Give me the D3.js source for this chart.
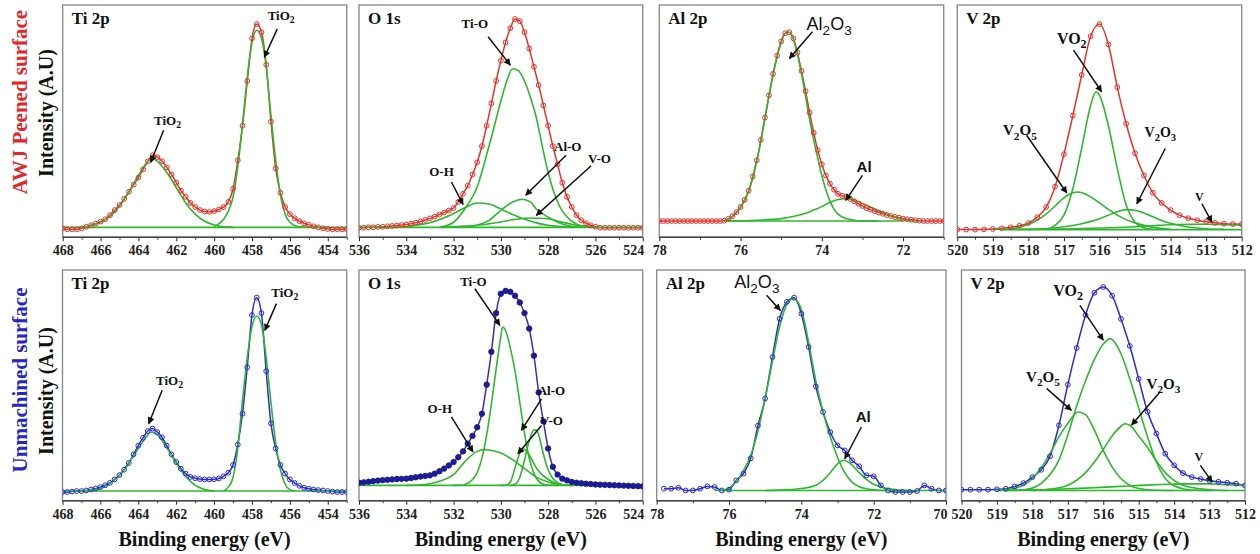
<!DOCTYPE html>
<html>
<head>
<meta charset="utf-8">
<script src="https://cdn.jsdelivr.net/npm/d3@7"></script>
<style>
  body { margin: 0; background: #fff; }
</style>
</head>
<body>
<svg id="chart" width="1260" height="554"></svg>
<script>
// ---------- tick labels ----------
const tiTicks = [468, 466, 464, 462, 460, 458, 456, 454];
const tiMinor = [467, 465, 463, 461, 459, 457, 455, 453];
const oTicks = [536, 534, 532, 530, 528, 526, 524];
const oMinor = [535, 533, 531, 529, 527, 525];
const alTopTicks = [78, 76, 74, 72];
const alBotTicks = [78, 76, 74, 72, 70];
const alMinor = [77, 75, 73, 71];
const vTicks = [520, 519, 518, 517, 516, 515, 514, 513, 512];
const vMinor = [519.5, 518.5, 517.5, 516.5, 515.5, 514.5, 513.5, 512.5];

// ---------- AWJ peened surface (top row) ----------
// measured points: first energy + spacing, then intensities (A.U, baseline ~0, max ~100)
const tiTopStart = 468, tiTopStep = 0.25;
const tiTopCounts = [-0.5,-1,-1,-1,-0.5,0.3,1,1.8,2.8,4,6,8.5,11,14,17.5,21,24.5,28.5,32.5,35.5,34.5,
  32.5,29.5,26,22,18,15,12,10,8.5,7.8,7.6,8,8.8,10,12.5,19,33,50,72,93,
  100,96,80,52,29,17,10,6.5,4.5,3,2,1.2,0.5,0,-0.5,-0.8,-1,-1,-1,-1];
const tiTopFitA = [[467,0],[466.5,1],[466,2.5],[465.5,5.5],[465,10.5],[464.5,17.5],[464,25.5],[463.5,32.5],[463.3,34],
  [463,32.5],[462.5,27],[462,19.5],[461.5,12],[461,6.5],[460.5,3],[460,1.2],[459.5,0.3],[459,0]];
const tiTopFitB = [[460,0.5],[459.5,4],[459.25,8],[459,15],[458.75,30],[458.5,51],[458.25,74],[458,91],[457.75,97],
  [457.5,93],[457.25,79],[457,55],[456.75,33],[456.5,16],[456.25,6.5],[456,2.5],[455.5,0.3],[455,0]];
const tiTopBase = [[468,0],[453,0]];

const oTopStart = 536, oTopStep = 0.2;
const oTopCounts = [-0.2,-0.2,0,0,0.2,0.3,0.5,0.7,0.9,1.1,1.4,1.8,2.3,2.9,3.6,4.4,5.3,6.3,7.3,8.3,9.5,12.5,16.5,20.5,26,32,
  40,50,61,72,82,91,98,102.5,101.5,96,88,79,70,60,50,40,31,22,15,10,6,3.5,2,1,0.3,
  -0.2,-0.2,-0.2,-0.2,-0.2,-0.2,-0.2,-0.2,-0.2,-0.2];
const oTopTiO = [[532.6,0],[532,2.5],[531.5,9.5],[531,20],[530.5,40],[530,62],[529.75,72],[529.5,78],[529.25,77],[529,72],
  [528.75,64],[528.5,54],[528.25,40],[528,27],[527.75,17],[527.5,10],[527,3],[526.5,0.5],[526,0]];
const oTopOH = [[534.5,0],[534,0.4],[533.5,1.2],[533,2.3],[532.5,4.2],[532,6.8],[531.5,9.8],[531,12],[530.5,11.5],[530,9],
  [529.5,6.3],[529,4],[528.5,2.2],[528,1],[527.5,0.4],[527,0]];
const oTopAlO = [[531.5,0],[531,1],[530.5,3.4],[530,8.4],[529.5,12.5],[529.1,13.8],[528.75,12.5],[528.5,9],[528,5],[527.5,2],[527,0.5],[526.5,0]];
const oTopVO = [[532.5,0],[531.5,0.6],[531,1],[530,2.6],[529.5,3.7],[528.8,4.6],[528,4.2],[527.5,2.8],[527,1.5],[526.5,0.5],[526,0]];
const oTopBase = [[536,0],[524,0]];

const alTopStart = 78, alTopStep = 0.1;
const alTopCounts = [3.1,3.1,3.1,3.1,3.1,3.1,3.1,3.1,3.1,3.1,3.1,3.1,3.1,3.1,3.1,3.1,
  3.3,4.2,5.5,7.5,10,13.5,18,25,33,43,54,65,75.5,84.5,91.5,95.5,96,93,86,77,67,56.5,46.5,38,31,
  25.5,21.5,18.5,16.5,15.5,15,14,12.8,11.6,10.5,9.5,8.7,8,7.3,6.7,6.1,5.6,5.1,4.7,4.3,4,3.7,3.5,3.3,
  3.1,3.1,3.1,3.1,3.1,3.1];
const alTopAl2O3 = [[76.4,3.1],[76.2,5.3],[76,9.8],[75.8,17.7],[75.6,32.5],[75.4,53.5],[75.2,75],[75,91],[74.9,95.5],[74.8,96],
  [74.7,92.5],[74.6,85],[74.5,75.5],[74.4,64.5],[74.3,53],[74.2,43],[74.1,34],[74,25.5],[73.9,18.5],[73.8,13],[73.7,9],
  [73.6,6.5],[73.4,4.3],[73.2,3.5],[73,3.2],[72.6,3.1]];
const alTopAl = [[76.4,3.1],[75.6,3.5],[75,4.3],[74.6,5.8],[74.4,6.9],[74.2,8.5],[74,10.2],[73.8,12.3],[73.6,13.7],[73.4,14.1],
  [73.2,13.5],[73,11.8],[72.8,10],[72.6,8.2],[72.4,6.5],[72.2,5.1],[72,4],[71.8,3.4],[71.6,3.1]];
const alTopBase = [[76.4,3.1],[72,3.1]];

const vTopStart = 520, vTopStep = 0.25;
const vTopCounts = [-1.1,-1.1,-1.1,-1,-0.8,-0.5,0,0.8,2.1,5,10,20,36,55,75,94,100,
  90,69,51,36.5,25.5,17,12,8.5,6,4.5,3.5,2.7,2.2,1.8,1.6,1.5];
const vTopVO2 = [[517.5,-1],[517.25,1],[517,6],[516.75,19],[516.5,39],[516.25,60],[516.1,66.7],[516,65],[515.75,50],
  [515.5,29],[515.25,11],[515,2.5],[514.75,-0.2],[514.5,-1]];
const vTopV2O5 = [[519,-1],[518.5,-0.7],[518,1.5],[517.75,3.5],[517.5,6.5],[517.25,10.5],[517,14.5],[516.75,17],[516.6,17.4],
  [516.5,17],[516.25,15],[516,12],[515.75,8.8],[515.5,6],[515.25,3.8],[515,2.2],[514.5,0],[514,-1]];
const vTopV2O3 = [[518,-1],[517.5,-0.7],[517,0.3],[516.5,1.8],[516,4.2],[515.75,6],[515.5,7.7],[515.25,8.7],[515,8.4],
  [514.75,7],[514.5,5.2],[514.25,3.4],[514,2],[513.5,0.2],[513,-0.7],[512.5,-1]];
const vTopV = [[518.5,-1],[517,-0.8],[516,-0.3],[515,0.3],[514.5,0.8],[514,1.3],[513.5,1.5],[513,1.5],[512.5,1.3],[512,1.1]];
const vTopBase = [[518.7,-1.1],[512,-1.1]];

// ---------- Unmachined surface (bottom row) ----------
const tiBotStart = 468, tiBotStep = 0.25;
const tiBotCounts = [-0.5,-0.5,-0.3,0,0,0.3,0.8,1.3,2,3,4.2,6,8.2,11,14.5,19,23.5,27.5,31,32.3,30.5,
  27.8,23.5,19,15,11.5,9,7.3,6.6,6.2,6,6,6.1,6.5,7.6,9.5,13.5,24,40,64,91,
  100,92,62,35,22,13.5,9,6,4.2,2.7,1.7,1.2,0.8,0.5,0.3,0,-0.3,-0.5,-0.5,-0.5];
const tiBotFitA = [[467,0],[466.5,0.5],[466,1.5],[465.5,4],[465,8],[464.5,14.5],[464,22],[463.5,29],[463.35,30.5],[463,29],
  [462.5,22.5],[462,14.5],[461.5,7.5],[461,3],[460.5,0.8],[460,0]];
const tiBotFitB = [[459.5,0],[459.25,2],[459,7],[458.75,22],[458.5,47],[458.25,69],[458,85],[457.75,90.5],[457.5,86],
  [457.25,69],[457,46],[456.75,25],[456.5,11],[456.25,3.5],[456,0.7],[455.75,0]];
const tiBotBase = [[468,0],[453,0]];

const oBotStart = 536, oBotStep = 0.2;
const oBotCounts = [4.3,4.5,4.8,5.1,5.4,5.6,5.8,6,6.2,6.3,6.4,6.7,7.1,7.5,7.8,8.1,9,10.2,11.6,13.2,15,17.5,20.5,24.5,28.5,33,
  40,55,72,92,102,103.5,103,101,97.5,92,84,70,51,36,22,12.5,8.5,6.4,5.5,4.7,4.3,4,3.8,3.6,3.4,
  3.3,3.2,3.1,3,2.9,2.8,2.7,2.6,2.5,2.4];
const oBotTiO = [[532,2.9],[531.6,3],[531.4,4],[531.2,6],[531,9.5],[530.8,17],[530.6,29],[530.4,45],[530.2,63],[530,80],
  [529.93,84.8],[529.8,83],[529.6,74],[529.4,62],[529.2,46],[529,30],[528.8,17],[528.6,9],[528.4,5],[528.2,3.5],[528,3],[527.6,2.9]];
const oBotOH = [[534,2.9],[533.5,3.1],[533,3.8],[532.5,5.5],[532,8.5],[531.5,15.5],[531,20.5],[530.7,21.4],[530.5,21.2],
  [530,19.7],[529.5,16.2],[529,11.6],[528.5,7.2],[528,4.7],[527.5,3.4],[527,2.9]];
const oBotAlO = [[529.6,2.9],[529.4,3.5],[529.2,7],[529,16],[528.8,26],[528.6,31.5],[528.5,31.5],[528.4,29],[528.2,19],
  [528,11],[527.8,6.5],[527.6,4.3],[527.4,3.4],[527.2,3],[527,2.9]];
const oBotVO = [[530,2.9],[529.8,3],[529.6,4.7],[529.4,12],[529.2,19.5],[529.07,21.9],[528.9,20.5],[528.7,16.5],[528.5,12],
  [528.3,9],[528.1,7],[527.9,5.3],[527.7,4.2],[527.5,3.4],[527.2,2.9]];
const oBotBase = [[536,2.9],[524,2.9]];

const alBotStart = 77.8, alBotStep = 0.2;
const alBotCounts = [1.2,1.2,1.7,0.3,0.3,1.2,2.4,2.1,0.3,0.7,5.5,9,16.9,33.8,47.9,69.3,89.1,97.8,100,91.7,
  74.5,54.1,40.9,30.5,23.6,21,15.9,12.8,8.1,7.6,2.9,0.3,-0.5,-0.5,-0.5,0,2.9,1.2,0.3,0.3];
const alBotAl2O3 = [[76.4,0.3],[76.2,0.5],[76,1.5],[75.8,5],[75.6,10.5],[75.4,18.5],[75.2,31],[75,48],[74.8,67],[74.6,85],
  [74.4,96.5],[74.22,99.5],[74,94],[73.8,77],[73.6,57],[73.4,41],[73.2,28],[73,17.5],[72.8,9.5],[72.6,4.6],[72.4,2.2],
  [72.2,1.2],[72,0.7],[71.6,0.3]];
const alBotAl = [[75,0.3],[74.5,0.6],[74,1.3],[73.6,3],[73.4,5.5],[73.2,9.5],[73,14],[72.84,15.9],[72.6,13.5],[72.4,9.5],
  [72.2,6],[72,3.5],[71.8,2.1],[71.5,1],[71.2,0.4],[71,0.3]];
const alBotBase = [[76.3,0.3],[70,0.3]];

const vBotStart = 520, vBotStep = 0.25;
const vBotCounts = [0.7,0.7,0.7,0.7,0.9,1.2,2.4,4.1,7.2,11,18,34,55,74,91,102.5,105.5,
  101,89,75,58,41,29.7,19.3,13.3,9.3,7.2,6.2,5.3,4.8,4.3,3.8,2.9];
const vBotVO2 = [[518.5,0.3],[518.25,0.7],[518,1.5],[517.75,4],[517.5,8.5],[517.25,16],[517,29],[516.75,44],[516.5,57],
  [516.25,68],[516,76],[515.8,78.8],[515.5,71],[515.25,58],[515,43],[514.75,28],[514.5,15],[514.25,6.5],[514,2.7],
  [513.75,1.2],[513.5,0.5],[513,0.3]];
const vBotV2O5 = [[519,0.3],[518.5,1.5],[518.25,3],[518,6.5],[517.75,12],[517.5,19.5],[517.25,28],[517,35],[516.71,40.9],
  [516.5,39.5],[516.25,31.5],[516,21],[515.75,12.5],[515.5,6.5],[515.25,3],[515,1.3],[514.5,0.4],[514,0.3]];
const vBotV2O3 = [[518,0.3],[517.5,1],[517,3],[516.5,9.5],[516.25,15],[516,21.5],[515.75,28.5],[515.5,33.5],[515.39,34.8],
  [515.25,34],[515,28.5],[514.75,22.5],[514.5,15.5],[514.25,9.5],[514,5.5],[513.75,3],[513.5,1.8],[513,0.7],[512.5,0.3]];
const vBotV = [[519,0.3],[517.5,0.8],[516.5,1.5],[515.5,2.4],[514.5,3.3],[513.75,3.7],[513,3.7],[512.5,3.3],[512,2.9]];
const vBotBase = [[518.8,0.3],[512,0.3]];

// ---------- peak labels: text, label centre, arrow start, arrow end (eV, intensity) ----------
const tiTopNotes = [
  {t:"TiO_2", l:[462.46,52.7], a:[462.67,47.8], b:[463.35,32]},
  {t:"TiO_2", l:[456.46,104.4], a:[456.67,97.5], b:[457.35,83.7]}];
const oTopNotes = [
  {t:"Ti-O", l:[531.1,100.3], a:[530.54,93.8], b:[529.6,79.8]},
  {t:"O-H", l:[532.51,27.3], a:[532.09,22.3], b:[531.6,11.3]},
  {t:"Al-O", l:[527.17,39.6], a:[527.24,35.5], b:[528.95,15.8]},
  {t:"V-O", l:[525.83,33.8], a:[526.18,30.3], b:[528.5,5.9]}];
const alTopNotes = [
  {t:"Al_2O_3", l:[73.82,100.3], a:[74.23,96.2], b:[74.8,83.1], sans:true, size:18},
  {t:"Al", l:[72.96,29.7], a:[73.0,25.6], b:[73.41,13.3], sans:true, bold:true, size:15}];
const vTopNotes = [
  {t:"VO_2", l:[516.78,93], a:[516.73,87.2], b:[515.94,66.7], size:16},
  {t:"V_2O_5", l:[518.24,47.8], a:[518.05,45.3], b:[516.92,16.9], size:15},
  {t:"V_2O_3", l:[514.29,47], a:[514.15,38.8], b:[514.95,11.6], size:14},
  {t:"V", l:[513.19,14.9], a:[513.12,11.6], b:[512.84,2.6], size:12}];
const tiBotNotes = [
  {t:"TiO_2", l:[462.35,57.3], a:[462.74,52.1], b:[463.45,34.8]},
  {t:"TiO_2", l:[456.27,102.9], a:[456.71,96.9], b:[457.32,83.1]}];
const oBotNotes = [
  {t:"Ti-O", l:[531.16,108.6], a:[531.1,104.6], b:[530.04,85.7]},
  {t:"O-H", l:[532.58,42.6], a:[532.09,38.3], b:[531.18,20.2]},
  {t:"Al-O", l:[527.86,52.1], a:[528.28,47.7], b:[529.13,31.4]},
  {t:"V-O", l:[527.86,36.5], a:[528.28,33.9], b:[529.28,19.3]}];
const alBotNotes = [
  {t:"Al_2O_3", l:[75.23,108.1], a:[74.96,101.2], b:[74.58,93.4], sans:true, size:18},
  {t:"Al", l:[72.29,38.3], a:[72.34,33.1], b:[72.8,16.7], sans:true, bold:true, size:15}];
const vBotNotes = [
  {t:"VO_2", l:[516.99,103.8], a:[516.66,96], b:[516.0,78], size:16},
  {t:"V_2O_5", l:[517.7,59.1], a:[517.6,53.1], b:[516.9,41.7], size:15},
  {t:"V_2O_3", l:[514.3,55.5], a:[514.4,51.2], b:[515.2,34.1], size:15},
  {t:"V", l:[513.3,17.6], a:[513.26,13.3], b:[512.93,4.7], size:12}];

// ---------- layout ----------
const serif = "'Liberation Serif','Times New Roman',serif";
const sans = "'Liberation Sans',Arial,sans-serif";
const green = "#2db82d";

const rows = [
  {top:5, bottom:237.3, yDomain:[-4.9,109.4], color:"#e5322c", side:"AWJ Peened surface", sideColor:"#e0262a", sideY:102, intY:113},
  {top:270, bottom:500.7, yDomain:[-5,114.3], color:"#2b2bd0", side:"Unmachined surface", sideColor:"#2626c4", sideY:380, intY:391}
];

// endLabel: last tick label sits inside the frame edge, as in the source figure
const panels = [
  {row:0, title:"Ti 2p", x0:62.7, x1:346.7, dom:[468,453], start:tiTopStart, step:tiTopStep, counts:tiTopCounts,
   fits:[tiTopFitA, tiTopFitB], base:tiTopBase, ticks:tiTicks, minor:tiMinor, notes:tiTopNotes},
  {row:0, title:"O 1s", x0:359, x1:642.7, dom:[536,524], start:oTopStart, step:oTopStep, counts:oTopCounts,
   fits:[oTopTiO, oTopOH, oTopAlO, oTopVO], base:oTopBase, ticks:oTicks, minor:oMinor, notes:oTopNotes, endLabel:true},
  {row:0, title:"Al 2p", x0:659.3, x1:943.7, dom:[78,71], start:alTopStart, step:alTopStep, counts:alTopCounts,
   fits:[alTopAl2O3, alTopAl], base:alTopBase, ticks:alTopTicks, minor:alMinor, notes:alTopNotes},
  {row:0, title:"V 2p", x0:957.3, x1:1241.7, dom:[520,512], start:vTopStart, step:vTopStep, counts:vTopCounts,
   fits:[vTopVO2, vTopV2O5, vTopV2O3, vTopV], base:vTopBase, ticks:vTicks, minor:vMinor, notes:vTopNotes},
  {row:1, title:"Ti 2p", x0:62.5, x1:346.7, dom:[468,453], start:tiBotStart, step:tiBotStep, counts:tiBotCounts,
   fits:[tiBotFitA, tiBotFitB], base:tiBotBase, ticks:tiTicks, minor:tiMinor, notes:tiBotNotes},
  {row:1, title:"O 1s", x0:359, x1:642.7, dom:[536,524], start:oBotStart, step:oBotStep, counts:oBotCounts,
   fits:[oBotTiO, oBotOH, oBotAlO, oBotVO], base:oBotBase, ticks:oTicks, minor:oMinor, notes:oBotNotes,
   filled:"#1c1c96", lineColor:"#4a2a9c", endLabel:true},
  {row:1, title:"Al 2p", x0:656.7, x1:946, dom:[78,70], start:alBotStart, step:alBotStep, counts:alBotCounts,
   fits:[alBotAl2O3, alBotAl], base:alBotBase, ticks:alBotTicks, minor:alMinor, notes:alBotNotes, endLabel:true},
  {row:1, title:"V 2p", x0:961.5, x1:1245, dom:[520,512], start:vBotStart, step:vBotStep, counts:vBotCounts,
   fits:[vBotVO2, vBotV2O5, vBotV2O3, vBotV], base:vBotBase, ticks:vTicks, minor:vMinor, notes:vBotNotes}
];

const svg = d3.select("#chart");
svg.append("rect").attr("width", 1260).attr("height", 554).attr("fill", "#fff");

svg.append("defs").append("marker")
  .attr("id", "arrow")
  .attr("viewBox", "0 0 10 10")
  .attr("refX", 9).attr("refY", 5)
  .attr("markerWidth", 8).attr("markerHeight", 7)
  .attr("markerUnits", "userSpaceOnUse")
  .attr("orient", "auto")
  .append("path").attr("d", "M0,0 L10,5 L0,10 z").attr("fill", "#111");

// writes "TiO_2" style text with subscripts
function richText(sel, str, size) {
  const parts = str.split(/_(\d)/);
  let shift = 0;
  parts.forEach((p, i) => {
    if (!p) return;
    const ts = sel.append("tspan").text(p);
    if (i % 2 === 1) {
      ts.attr("font-size", size * 0.75).attr("dy", size * 0.28 - shift);
      shift = size * 0.28;
    } else if (shift) {
      ts.attr("dy", -shift);
      shift = 0;
    }
  });
}

// side titles
rows.forEach(r => {
  svg.append("text")
    .attr("transform", `translate(27,${r.sideY}) rotate(-90)`)
    .attr("text-anchor", "middle")
    .attr("font-family", serif).attr("font-weight", "bold").attr("font-size", 21)
    .attr("fill", r.sideColor)
    .text(r.side);
  svg.append("text")
    .attr("transform", `translate(53,${r.intY}) rotate(-90)`)
    .attr("text-anchor", "middle")
    .attr("font-family", serif).attr("font-weight", "bold").attr("font-size", 20)
    .attr("fill", "#111")
    .text("Intensity (A.U)");
});

panels.forEach((p, pi) => {
  const r = rows[p.row];
  const x = d3.scaleLinear().domain(p.dom).range([p.x0, p.x1]);
  const y = d3.scaleLinear().domain(r.yDomain).range([r.bottom, r.top]);
  const g = svg.append("g");

  g.append("clipPath").attr("id", "clip" + pi)
    .append("rect").attr("x", p.x0).attr("y", r.top).attr("width", p.x1 - p.x0).attr("height", r.bottom - r.top);

  // frame
  g.append("rect")
    .attr("x", p.x0).attr("y", r.top).attr("width", p.x1 - p.x0).attr("height", r.bottom - r.top)
    .attr("fill", "none").attr("stroke", "#8e8e8e").attr("stroke-width", 1.4);

  // x axis
  const axis = d3.axisBottom(x).tickValues(p.ticks).tickSize(4).tickPadding(4).tickFormat(d3.format("d"));
  const ax = g.append("g").attr("transform", `translate(0,${r.bottom})`).call(axis)
    .call(a => a.select(".domain").remove())
    .attr("font-family", serif).attr("font-weight", "bold").attr("font-size", 14).attr("color", "#222");
  if (p.endLabel) {
    ax.selectAll(".tick").filter(d => d === p.dom[1]).select("text")
      .attr("text-anchor", "end").attr("x", 1);
  }
  g.append("g").attr("transform", `translate(0,${r.bottom})`)
    .call(d3.axisBottom(x).tickValues(p.minor).tickSize(2.5).tickFormat(""))
    .call(a => a.select(".domain").remove())
    .attr("color", "#333");
  g.append("line")
    .attr("x1", p.x0).attr("x2", p.x1).attr("y1", r.bottom).attr("y2", r.bottom)
    .attr("stroke", "#444").attr("stroke-width", 1.4);

  // panel name
  g.append("text")
    .attr("x", p.x0 + 9).attr("y", r.top + 19)
    .attr("font-family", serif).attr("font-weight", "bold").attr("font-size", 17)
    .attr("fill", "#111")
    .text(p.title);

  const plot = g.append("g").attr("clip-path", `url(#clip${pi})`);
  const pts = p.counts.map((v, i) => [p.start - i * p.step, v]);
  const line = d3.line().x(d => x(d[0])).y(d => y(d[1])).curve(d3.curveMonotoneX);
  const markColor = p.filled || r.color;

  plot.append("path").datum(pts).attr("d", line)
    .attr("fill", "none").attr("stroke", p.lineColor || r.color).attr("stroke-width", 1.5);

  plot.append("path").datum(p.base).attr("d", line)
    .attr("fill", "none").attr("stroke", green).attr("stroke-width", 1.6);
  p.fits.forEach(f => {
    plot.append("path").datum(f).attr("d", line)
      .attr("fill", "none").attr("stroke", green).attr("stroke-width", 1.6);
  });

  plot.selectAll("circle.pt").data(pts).enter().append("circle")
    .attr("class", "pt")
    .attr("cx", d => x(d[0])).attr("cy", d => y(d[1]))
    .attr("r", p.filled ? 2.7 : 2.4)
    .attr("fill", p.filled ? markColor : "none")
    .attr("stroke", markColor).attr("stroke-width", 1);

  // peak labels with arrows
  p.notes.forEach(n => {
    const size = n.size || 13;
    const t = g.append("text")
      .attr("x", x(n.l[0])).attr("y", y(n.l[1]) + size * 0.35)
      .attr("text-anchor", "middle")
      .attr("font-family", n.sans ? sans : serif)
      .attr("font-weight", n.sans && !n.bold ? "normal" : "bold")
      .attr("font-size", size).attr("fill", "#111");
    richText(t, n.t, size);
    g.append("line")
      .attr("x1", x(n.a[0])).attr("y1", y(n.a[1]))
      .attr("x2", x(n.b[0])).attr("y2", y(n.b[1]))
      .attr("stroke", "#111").attr("stroke-width", 1.5)
      .attr("marker-end", "url(#arrow)");
  });

  if (p.row === 1) {
    g.append("text")
      .attr("x", (p.x0 + p.x1) / 2).attr("y", 546)
      .attr("text-anchor", "middle")
      .attr("font-family", serif).attr("font-weight", "bold").attr("font-size", 20)
      .attr("fill", "#111")
      .text("Binding energy (eV)");
  }
});
</script>
</body>
</html>
